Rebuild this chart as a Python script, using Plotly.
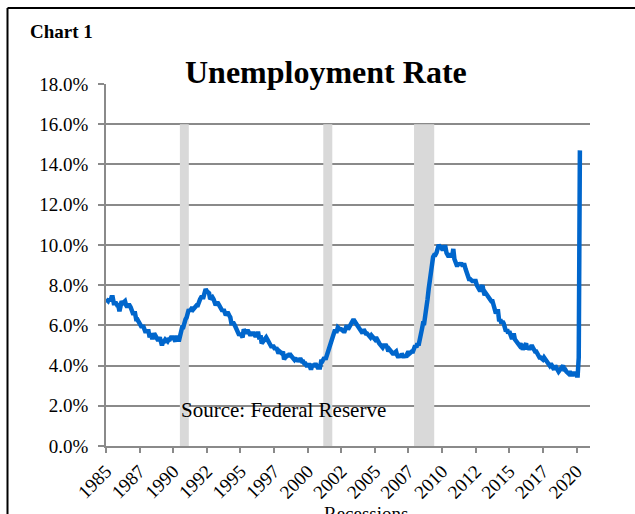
import plotly.graph_objects as go
import pandas as pd

# Monthly unemployment rate (%), Jan 1985 - Apr 2020
rate_1985_1989 = [
    7.3, 7.2, 7.2, 7.3, 7.2, 7.4, 7.4, 7.1, 7.1, 7.1, 7.0, 7.0,
    6.7, 7.2, 7.2, 7.1, 7.2, 7.2, 7.0, 6.9, 7.0, 7.0, 6.9, 6.6,
    6.6, 6.6, 6.6, 6.3, 6.3, 6.2, 6.1, 6.0, 5.9, 6.0, 5.8, 5.7,
    5.7, 5.7, 5.7, 5.4, 5.6, 5.4, 5.4, 5.6, 5.4, 5.4, 5.3, 5.3,
    5.4, 5.2, 5.0, 5.2, 5.2, 5.3, 5.2, 5.2, 5.3, 5.3, 5.4, 5.4,
]
rate_1990_1994 = [
    5.4, 5.3, 5.2, 5.4, 5.4, 5.2, 5.5, 5.7, 5.9, 5.9, 6.2, 6.3,
    6.4, 6.6, 6.8, 6.7, 6.9, 6.9, 6.8, 6.9, 6.9, 7.0, 7.0, 7.3,
    7.3, 7.4, 7.4, 7.4, 7.6, 7.8, 7.7, 7.6, 7.6, 7.3, 7.4, 7.4,
    7.3, 7.1, 7.0, 7.1, 7.1, 7.0, 6.9, 6.8, 6.7, 6.8, 6.6, 6.5,
    6.6, 6.6, 6.5, 6.4, 6.1, 6.1, 6.1, 6.0, 5.9, 5.8, 5.6, 5.5,
]
rate_1995_1999 = [
    5.6, 5.4, 5.4, 5.8, 5.6, 5.6, 5.7, 5.7, 5.6, 5.5, 5.6, 5.6,
    5.6, 5.5, 5.5, 5.6, 5.6, 5.3, 5.5, 5.1, 5.2, 5.2, 5.4, 5.4,
    5.3, 5.2, 5.2, 5.1, 4.9, 5.0, 4.9, 4.8, 4.9, 4.7, 4.6, 4.7,
    4.6, 4.6, 4.7, 4.3, 4.4, 4.5, 4.5, 4.5, 4.6, 4.5, 4.4, 4.4,
    4.3, 4.4, 4.2, 4.3, 4.2, 4.3, 4.3, 4.2, 4.2, 4.1, 4.1, 4.0,
]
rate_2000_2004 = [
    4.0, 4.1, 4.0, 3.8, 4.0, 4.0, 4.0, 4.1, 3.9, 3.9, 3.9, 3.9,
    4.2, 4.2, 4.3, 4.4, 4.3, 4.5, 4.6, 4.9, 5.0, 5.3, 5.5, 5.7,
    5.7, 5.7, 5.7, 5.9, 5.8, 5.8, 5.8, 5.7, 5.7, 5.7, 5.9, 6.0,
    5.8, 5.9, 5.9, 6.0, 6.1, 6.3, 6.2, 6.1, 6.1, 6.0, 5.8, 5.7,
    5.7, 5.6, 5.8, 5.6, 5.6, 5.6, 5.5, 5.4, 5.4, 5.5, 5.4, 5.4,
]
rate_2005_2009 = [
    5.3, 5.4, 5.2, 5.2, 5.1, 5.0, 5.0, 4.9, 5.0, 5.0, 5.0, 4.9,
    4.7, 4.8, 4.7, 4.7, 4.6, 4.6, 4.7, 4.7, 4.5, 4.4, 4.5, 4.4,
    4.6, 4.5, 4.4, 4.5, 4.4, 4.6, 4.7, 4.6, 4.7, 4.7, 4.7, 5.0,
    5.0, 4.9, 5.1, 5.0, 5.4, 5.6, 5.8, 6.1, 6.1, 6.5, 6.8, 7.3,
    7.8, 8.3, 8.7, 9.0, 9.4, 9.5, 9.5, 9.6, 9.8, 10.0, 9.9, 9.9,
]
rate_2010_2014 = [
    9.8, 9.8, 9.9, 9.9, 9.6, 9.4, 9.4, 9.5, 9.5, 9.4, 9.8, 9.3,
    9.1, 9.0, 9.0, 9.1, 9.0, 9.1, 9.0, 9.0, 9.0, 8.8, 8.6, 8.5,
    8.3, 8.3, 8.2, 8.2, 8.2, 8.2, 8.2, 8.0, 7.8, 7.8, 7.7, 7.9,
    8.0, 7.7, 7.5, 7.6, 7.5, 7.5, 7.3, 7.2, 7.2, 7.2, 6.9, 6.7,
    6.6, 6.7, 6.7, 6.2, 6.3, 6.1, 6.2, 6.1, 5.9, 5.7, 5.8, 5.6,
]
rate_2015_2020 = [
    5.7, 5.5, 5.4, 5.4, 5.6, 5.3, 5.2, 5.1, 5.0, 5.0, 5.1, 5.0,
    4.8, 4.9, 5.0, 5.1, 4.8, 4.9, 4.8, 4.9, 5.0, 4.9, 4.7, 4.7,
    4.7, 4.6, 4.4, 4.4, 4.4, 4.3, 4.3, 4.4, 4.3, 4.2, 4.2, 4.1,
    4.0, 4.1, 4.0, 4.0, 3.8, 4.0, 3.8, 3.8, 3.7, 3.8, 3.8, 3.9,
    4.0, 3.8, 3.8, 3.7, 3.6, 3.6, 3.7, 3.6, 3.5, 3.6, 3.6, 3.6,
    3.5, 3.5, 4.4, 14.7,
]
unemployment = (rate_1985_1989 + rate_1990_1994 + rate_1995_1999 + rate_2000_2004
                + rate_2005_2009 + rate_2010_2014 + rate_2015_2020)
months = pd.date_range("1985-01-01", periods=len(unemployment), freq="MS")

# Recession periods
recession_starts = ["1990-07-01", "2001-03-01", "2007-12-01"]
recession_ends = ["1991-03-01", "2001-11-01", "2009-06-01"]
recession_height = 16.0

# Axis ticks
x_tick_dates = pd.date_range("1985-01-01", "2020-01-01", freq="30MS")
x_tick_labels = ["1985", "1987", "1990", "1992", "1995", "1997", "2000", "2002",
                 "2005", "2007", "2010", "2012", "2015", "2017", "2020"]
y_tick_values = [0, 2, 4, 6, 8, 10, 12, 14, 16, 18]
y_tick_labels = ["0.0%", "2.0%", "4.0%", "6.0%", "8.0%", "10.0%", "12.0%",
                 "14.0%", "16.0%", "18.0%"]

FONT = "Liberation Serif, Times New Roman, serif"
GRID = "#8a8a8a"

fig = go.Figure()

for s, e in zip(recession_starts, recession_ends):
    fig.add_trace(go.Scatter(
        x=[s, s, e, e], y=[0, recession_height, recession_height, 0],
        fill="toself", fillcolor="#d9d9d9", mode="lines",
        line=dict(width=0), hoverinfo="skip", showlegend=False,
    ))

fig.add_trace(go.Scatter(
    x=months, y=unemployment, mode="lines",
    line=dict(color="#0066cc", width=4.5), showlegend=False,
))

fig.update_layout(
    width=635, height=514,
    margin=dict(l=106, r=45, t=84, b=66),
    paper_bgcolor="white", plot_bgcolor="white",
    font=dict(family=FONT, size=19, color="black"),
    xaxis=dict(
        type="date", range=["1985-01-01", "2021-01-01"],
        tickmode="array", tickvals=x_tick_dates, ticktext=x_tick_labels,
        tickangle=-45, ticks="outside", ticklen=5, tickcolor=GRID, tickwidth=1.5,
        showline=True, linecolor=GRID, linewidth=1.5, showgrid=False, zeroline=False,
        tickfont=dict(family=FONT, size=19),
    ),
    yaxis=dict(
        range=[0, 18], tickmode="array", tickvals=y_tick_values, ticktext=y_tick_labels,
        ticks="outside", ticklen=6, tickcolor=GRID, tickwidth=1.5,
        showline=True, linecolor=GRID, linewidth=1.5,
        showgrid=True, gridcolor=GRID, gridwidth=1.5, zeroline=False,
        ticklabelstandoff=6,
        tickfont=dict(family=FONT, size=19),
    ),
)

# Frame lines (top and left) of the surrounding box
px_w, px_h = 484.0, 364.0
def fx(px):
    return (px - 106) / px_w
def fy(py):
    return (448 - py) / px_h

fig.add_shape(type="line", xref="paper", yref="paper",
              x0=fx(7.5), x1=fx(7.5), y0=fy(7.5), y1=fy(530),
              line=dict(color="black", width=2))
fig.add_shape(type="line", xref="paper", yref="paper",
              x0=fx(7.5), x1=fx(650), y0=fy(7.5), y1=fy(7.5),
              line=dict(color="black", width=2))

fig.add_annotation(text="<b>Chart 1</b>", xref="paper", yref="paper",
                   x=fx(28), y=fy(31), xanchor="left", yanchor="middle",
                   showarrow=False, font=dict(family=FONT, size=19, color="black"))
fig.add_annotation(text="<b>Unemployment Rate</b>", xref="paper", yref="paper",
                   x=fx(326), y=fy(72), xanchor="center", yanchor="middle",
                   showarrow=False, font=dict(family=FONT, size=32, color="black"))
fig.add_annotation(text="Source: Federal Reserve", xref="paper", yref="paper",
                   x=fx(179), y=fy(412), xanchor="left", yanchor="middle",
                   showarrow=False, font=dict(family=FONT, size=21, color="black"))
fig.add_annotation(text="Recessions", xref="paper", yref="paper",
                   x=fx(322), y=fy(503), xanchor="left", yanchor="top",
                   showarrow=False, font=dict(family=FONT, size=19, color="black"))

fig.write_html("out.html")
